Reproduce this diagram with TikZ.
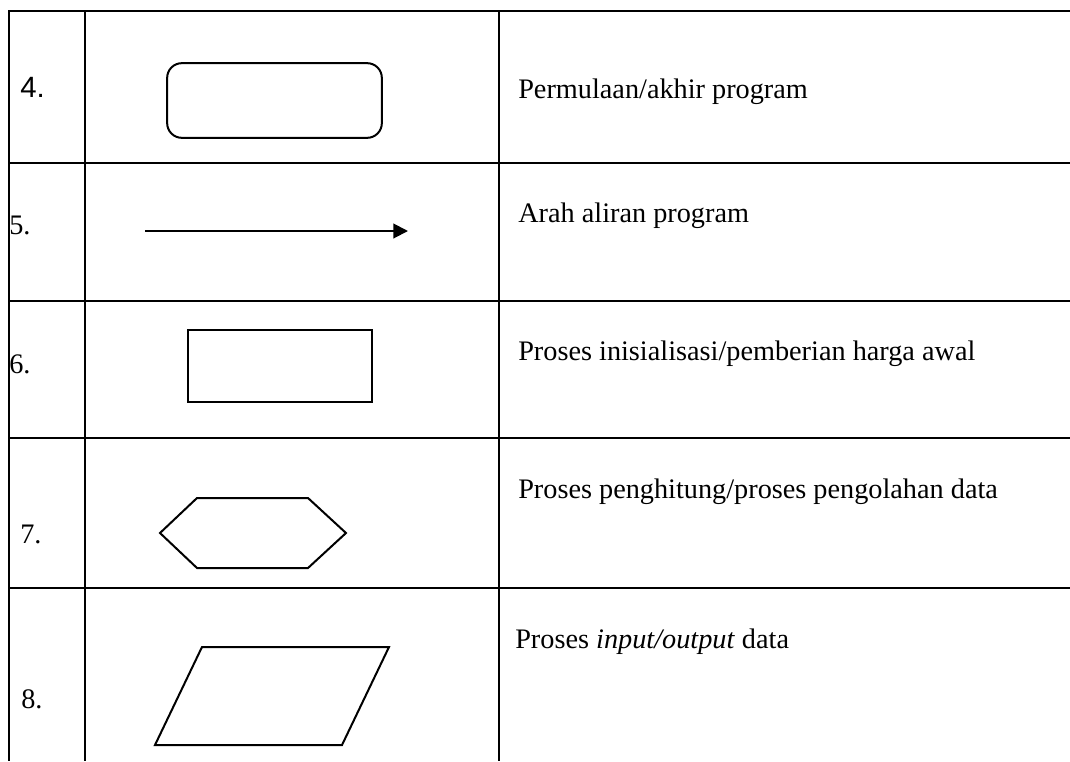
\documentclass[tikz,border=0pt]{standalone}
\usepackage{fontspec}
\setmainfont{Liberation Serif}
\newfontfamily\arialfont{Liberation Sans}
\usetikzlibrary{arrows.meta,positioning}

\begin{document}
\begin{tikzpicture}[x=0.75pt,y=-0.75pt,font=\fontsize{21.2}{25}\selectfont,
    grid/.style={line width=2.2pt},
    symb/.style={line width=1.5pt},
    lbl/.style={anchor=base west,inner sep=0pt}]
    \useasboundingbox (0,0) rectangle (1070,761);
    % table lines
    \draw[grid] (1070,11) -| (9,761);
    \foreach \y in {163,301,438,588} \draw[grid] (9,\y) -- (1070,\y);
    \foreach \x in {85,499} \draw[grid] (\x,11) -- (\x,761);
    % numbers
    \node[lbl,font=\arialfont\fontsize{22}{26}\selectfont] (n4) at (20,97) {4.};
    \foreach \name/\x/\y in {5/9/234,6/9/373,7/20/543,8/21/708}
      \node[lbl] (n\name) at (\x,\y) {\name.};
    % symbols
    \node[symb,draw,rounded corners=11pt,minimum width=161pt,minimum height=56pt] (s4) at (274.5,100.5) {};
    \coordinate (a5) at (145,231);
    \coordinate (b5) at (408,231);
    \draw[symb,-{Triangle[length=11pt,width=11pt]}] (a5) -- (b5);
    \node[symb,draw,minimum width=138pt,minimum height=54pt] (s6) at (280,366) {};
    \draw[symb] (160,533) -- (197,498) -- (308,498) -- (346,533) -- (308,568) -- (197,568) -- cycle;
    \draw[symb] (202,647) -- (389,647) -- (342,745) -- (155,745) -- cycle;
    % descriptions
    \node[lbl] (t4) at (518,98) {Permulaan/akhir program};
    \node[lbl] (t5) at (518,222) {Arah aliran program};
    \node[lbl] (t6) at (518,360) {Proses inisialisasi/pemberian harga awal};
    \node[lbl] (t7) at (518,498) {Proses penghitung/proses pengolahan data};
    \node[lbl] (t8) at (515,648) {Proses \textit{input/output} data};
\end{tikzpicture}
\end{document}
